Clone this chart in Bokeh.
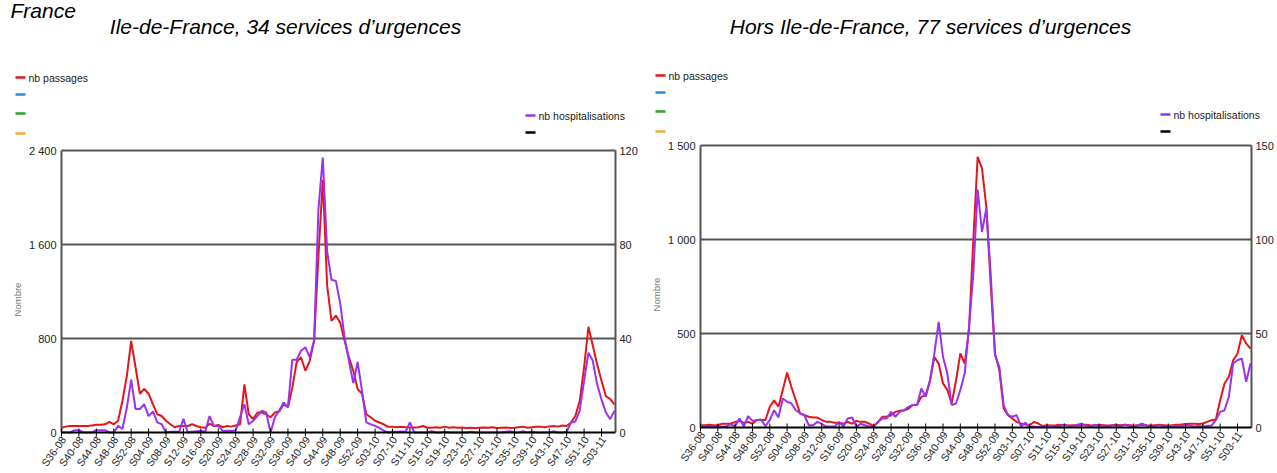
from bokeh.plotting import figure
from bokeh.models import Range1d
from bokeh.layouts import row
from bokeh.core.properties import value
from bokeh.embed import file_html
from bokeh.resources import INLINE

# ---------------- data ----------------
tick_labels = ["S36-08", "S40-08", "S44-08", "S48-08", "S52-08",
               "S04-09", "S08-09", "S12-09", "S16-09", "S20-09", "S24-09", "S28-09",
               "S32-09", "S36-09", "S40-09", "S44-09", "S48-09", "S52-09",
               "S03-10", "S07-10", "S11-10", "S15-10", "S19-10", "S23-10", "S27-10",
               "S31-10", "S35-10", "S39-10", "S43-10", "S47-10", "S51-10", "S03-11"]

idf_passages = [40, 50, 55, 55, 55, 55, 55, 60, 65, 65,
                70, 90, 70, 100, 270, 480, 780, 555, 330, 370,
                330, 240, 155, 140, 100, 70, 45, 55, 55, 55,
                70, 55, 45, 40, 75, 55, 65, 45, 55, 50,
                60, 70, 410, 155, 115, 170, 170, 155, 130, 170,
                180, 240, 215, 380, 600, 640, 525, 610, 780, 1500,
                2150, 1250, 950, 995, 935, 780, 640, 525, 370, 330,
                155, 130, 100, 85, 70, 48, 48, 45, 48, 45,
                42, 42, 45, 55, 40, 40, 45, 40, 50, 40,
                45, 40, 42, 38, 40, 38, 40, 42, 40, 45,
                38, 40, 42, 38, 40, 45, 50, 40, 45, 48,
                50, 45, 52, 55, 50, 60, 55, 85, 140, 270,
                555, 900, 740, 580, 440, 310, 285, 240]

idf_hospit = [0, 0, 0, 1, 1, 0, 0, 0, 1, 1,
              1, 0, 0, 2.8, 1.5, 10.5, 22.5, 10, 10, 12,
              7, 9, 4.3, 3.5, 0, 0.3, 0.3, 0.3, 5.8, 0,
              0.3, 0.5, 0.7, 0.3, 7, 2.8, 2.8, 0.7, 0.7, 0.7,
              0.8, 6.5, 12, 3.5, 5, 7, 9.3, 8.5, 0, 6.5,
              9.3, 12.8, 10.8, 31, 31, 34.8, 36.3, 32, 39, 95,
              117, 77, 65, 64.5, 55, 40.5, 30.5, 21, 30, 17.8,
              4.3, 3.5, 2.8, 2, 0.8, 0, 0.3, 0.3, 0.4, 0.3,
              4.3, 0, 0, 0, 0, 0.5, 0, 0, 0.3, 0,
              0, 0, 0, 0, 0.3, 0, 0, 0, 0, 0,
              0, 0, 0.3, 0.5, 0, 0, 0.5, 0, 0.3, 0,
              0, 0, 0, 0.5, 0, 0, 0.3, 4.2, 4.7, 9.3,
              22, 34, 30.5, 20.5, 14, 8.5, 5.7, 9.3]

hors_passages = [12, 12, 15, 12, 12, 20, 20, 20, 30, 35,
                 25, 30, 20, 40, 40, 40, 110, 145, 110, 200,
                 292, 215, 145, 75, 65, 57, 53, 53, 40, 30,
                 30, 25, 25, 20, 30, 20, 35, 30, 30, 20,
                 7, 30, 57, 57, 65, 83, 89, 92, 100, 120,
                 120, 163, 172, 250, 375, 340, 234, 200, 128, 250,
                 394, 340, 520, 996, 1440, 1378, 1174, 766, 394, 305,
                 101, 66, 48, 30, 21, 16, 12, 30, 21, 8,
                 12, 10, 12, 15, 12, 10, 12, 10, 12, 15,
                 12, 10, 14, 12, 10, 12, 15, 12, 14, 12,
                 10, 12, 15, 12, 10, 12, 14, 12, 10, 12,
                 15, 16, 18, 20, 20, 18, 21, 30, 39, 42,
                 145, 234, 270, 358, 394, 491, 447, 420]

hors_hospit = [0.3, 0.5, 0.5, 0.5, 0.7, 0.3, 0.7, 1.7, 0.7, 4.8,
               0.5, 6, 3.5, 4, 4.2, 0.7, 4, 9.2, 5.3, 15.4,
               13.7, 12.8, 9.2, 7.5, 6.5, 1.2, 1.2, 3, 2, 0.5,
               0.5, 0.5, 3, 0.5, 4.8, 5.3, 0.5, 2, 1.2, 0.5,
               0.5, 3, 4.8, 4.8, 8.3, 5.7, 8.3, 9.2, 11, 12,
               12, 20.7, 16.3, 25, 39.4, 56.2, 37.5, 28.7, 12, 12.8,
               20, 28.7, 53.5, 82, 126.6, 104, 116.5, 82, 38.5, 32.3,
               11.9, 6.6, 5.7, 6.6, 0.7, 2.5, 0.3, 0.5, 0.3, 0.5,
               0.7, 1, 0.5, 0.8, 1.5, 1, 0.5, 1.5, 2, 1,
               0.5, 1.5, 0.8, 1, 0.5, 1.2, 1, 0.8, 1.5, 1,
               0.5, 1.2, 2, 1, 0.5, 0.8, 1.2, 0.5, 0.8, 1,
               0.5, 0.8, 1.2, 1, 0.5, 0.8, 0.5, 0.8, 1, 3.9,
               8.3, 9.2, 16.3, 34, 35.8, 36.7, 24.3, 34]

left_ticks_idf = [0, 800, 1600, 2400]
right_ticks_idf = [0, 40, 80, 120]
left_ticks_hors = [0, 500, 1000, 1500]
right_ticks_hors = [0, 50, 100, 150]

legend_left = ["nb passages", "", "", ""]
legend_left_colors = ["#e3161b", "#2a8ae0", "#2ea02e", "#f0aa3c"]
legend_right = ["nb hospitalisations", ""]
legend_right_colors = ["#9a32f2", "#000000"]

weeks = list(range(len(idf_passages)))
tick_pos = list(range(0, 4 * len(tick_labels), 4))

RED = "#e3161b"
PURPLE = "#9a32f2"
GRID = "#555555"
TXT = "#222222"
FONT = value("Liberation Sans")
H = 472


def fmt(v):
    return f"{v:,}".replace(",", " ")


def panel(geo, passages, hospit, lticks, rticks, title, extra_title=None):
    c0, cw = geo["canvas_x"], geo["canvas_w"]
    px0, px124, pxr = geo["x0"], geo["x124"], geo["xr"]
    py0, py1 = geo["y0"], geo["y1"]
    pxw = (px124 - px0) / 124.0
    lmax, rmax = lticks[-1], rticks[-1]
    k = lmax / (py0 - py1)
    ratio = lmax / rmax

    def X(px):
        return (px - px0) / pxw

    def Y(py):
        return (py0 - py) * k

    p = figure(width=cw, height=H, output_backend="svg", toolbar_location=None,
               x_range=Range1d(X(c0), X(c0 + cw)),
               y_range=Range1d(Y(H), Y(0)),
               min_border=0, min_border_left=0, min_border_right=0,
               min_border_top=0, min_border_bottom=0)
    p.extra_y_ranges = {"h": Range1d(Y(H) / ratio, Y(0) / ratio)}
    p.axis.visible = False
    p.grid.visible = False
    p.outline_line_color = None
    p.background_fill_color = "white"
    p.border_fill_color = "white"

    xr = X(pxr)
    n = len(lticks) - 1
    # grid lines (incl. top border)
    p.segment(x0=[0] * n, x1=[xr] * n, y0=lticks[1:], y1=lticks[1:],
              line_color=GRID, line_width=2)
    # left / right axis lines
    p.segment(x0=[0, xr], x1=[0, xr], y0=[0, 0], y1=[lmax, lmax],
              line_color=GRID, line_width=2)

    # series
    p.line(weeks, passages, line_color=RED, line_width=2)
    p.line(weeks, hospit, line_color=PURPLE, line_width=2, y_range_name="h")

    # bottom axis
    p.segment(x0=[0], x1=[xr], y0=[0], y1=[0], line_color="black", line_width=2)
    p.segment(x0=tick_pos, x1=tick_pos, y0=[Y(py0 - 4)] * len(tick_pos),
              y1=[Y(py0 + 4)] * len(tick_pos), line_color="black", line_width=1)
    p.text(x=tick_pos, y=[0] * len(tick_pos), text=tick_labels, angle=0.95,
           x_offset=2, y_offset=5, text_align="right", text_baseline="middle",
           text_font=FONT, text_font_size="10.5px", text_color=TXT)

    # left tick labels
    p.text(x=[0] * len(lticks), y=lticks, text=[fmt(v) for v in lticks],
           x_offset=-5, text_align="right", text_baseline="middle",
           text_font=FONT, text_font_size="11px", text_color=TXT)
    # right tick labels (placed on the secondary scale)
    p.text(x=[xr] * len(rticks), y=rticks, text=[fmt(v) for v in rticks],
           x_offset=4, text_align="left", text_baseline="middle",
           text_font=FONT, text_font_size="11px", text_color=TXT,
           y_range_name="h")
    # y axis title
    p.text(x=[X(px0 - 44)], y=[Y((py0 + py1) / 2 + 8)], text=["Nombre"], angle=1.5708,
           text_align="center", text_baseline="middle",
           text_font=FONT, text_font_size="9.5px", text_color="#777777")

    # titles
    p.text(x=[X(geo["title_x"])], y=[Y(26)], text=[title], text_align="center",
           text_baseline="middle", text_font=FONT, text_font_size="21px",
           text_font_style="italic", text_color="black")
    if extra_title:
        p.text(x=[X(10)], y=[Y(10)], text=[extra_title], text_align="left",
               text_baseline="middle", text_font=FONT, text_font_size="21px",
               text_font_style="italic", text_color="black")

    # legends
    lx, ly = geo["leg_l"]
    ys = [ly + d for d in (0, 17, 36, 56)]
    p.segment(x0=[X(lx)] * 4, x1=[X(lx + 10)] * 4, y0=[Y(v) for v in ys],
              y1=[Y(v) for v in ys], line_color=legend_left_colors, line_width=2.5)
    p.text(x=[X(lx + 13)] * 4, y=[Y(v) for v in ys], text=legend_left,
           text_align="left", text_baseline="middle", text_font=FONT,
           text_font_size="10.5px", text_color=TXT)
    rx, ry = geo["leg_r"]
    ys2 = [ry, ry + 17]
    p.segment(x0=[X(rx)] * 2, x1=[X(rx + 10)] * 2, y0=[Y(v) for v in ys2],
              y1=[Y(v) for v in ys2], line_color=legend_right_colors, line_width=2.5)
    p.text(x=[X(rx + 13)] * 2, y=[Y(v) for v in ys2], text=legend_right,
           text_align="left", text_baseline="middle", text_font=FONT,
           text_font_size="10.5px", text_color=TXT)
    return p


geo_left = dict(canvas_x=0, canvas_w=638, x0=61, x124=601, xr=615, y0=432, y1=150,
                title_x=285, leg_l=(15, 77), leg_r=(525, 115))
geo_right = dict(canvas_x=638, canvas_w=638, x0=700, x124=1237, xr=1251, y0=427, y1=145,
                 title_x=930, leg_l=(655, 75), leg_r=(1160, 114))

p1 = panel(geo_left, idf_passages, idf_hospit, left_ticks_idf, right_ticks_idf,
           "Ile-de-France, 34 services d\u2019urgences", extra_title="France")
p2 = panel(geo_right, hors_passages, hors_hospit, left_ticks_hors, right_ticks_hors,
           "Hors Ile-de-France, 77 services d\u2019urgences")

layout = row(p1, p2)
open("out.html", "w").write(file_html(layout, INLINE))
